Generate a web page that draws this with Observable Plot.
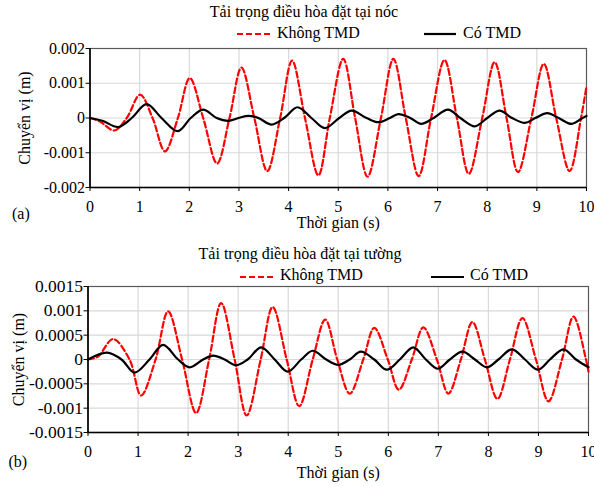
<!DOCTYPE html>
<html><head><meta charset="utf-8">
<script src="https://cdn.jsdelivr.net/npm/d3@7"></script>
<script src="https://cdn.jsdelivr.net/npm/@observablehq/plot@0.6"></script>
<style>
body{margin:0;background:#fff;}
#wrap{position:relative;width:594px;height:487px;font-family:"Liberation Serif","Times New Roman",serif;font-size:16px;color:#000;overflow:hidden;background:#fff}
#wrap svg text{font-family:"Liberation Serif","Times New Roman",serif !important;}
.abs{position:absolute;white-space:nowrap;line-height:16px}
.panel{position:absolute;left:0}
</style></head><body><div id="wrap"></div>
<script>
// ---------- Data ----------
const xTicks = [0,1,2,3,4,5,6,7,8,9,10];

// Panel (a): Tải trọng điều hòa đặt tại nóc
const tRedA = [0,0.2,0.49,0.74,1.01,1.26,1.51,1.77,2.01,2.28,2.56,2.81,3.05,3.31,3.57,3.83,4.07,4.33,4.60,4.83,5.10,5.34,5.59,5.86,6.11,6.36,6.62,6.87,7.14,7.39,7.63,7.90,8.15,8.39,8.62,8.89,9.14,9.39,9.66,9.89,10.0];
const vRedA = [0,-0.0001,-0.00036,0,0.00067,0,-0.00096,0,0.00115,0,-0.00131,0,0.00145,0,-0.00153,0,0.00165,0,-0.00165,0,0.0017,0,-0.00169,0,0.0017,0,-0.00167,0,0.00167,0,-0.00161,0,0.00161,0,-0.00156,0,0.00156,0,-0.00153,0,0.00091];
const tBlackA = [0,0.25,0.57,0.84,1.14,1.44,1.77,2.03,2.28,2.55,2.79,2.99,3.19,3.39,3.66,3.91,4.18,4.46,4.73,5.02,5.27,5.57,5.81,6.04,6.21,6.45,6.67,6.92,7.21,7.46,7.75,8.0,8.25,8.50,8.76,8.97,9.21,9.44,9.70,9.92,10.0];
const vBlackA = [0,-0.00008,-0.00026,0,0.0004,0,-0.00038,0,0.00024,0,-0.00008,0,0.00006,0,-0.00019,0,0.00031,0,-0.00029,0,0.00021,0,-0.00012,0,0.00011,0,-0.00017,0,0.00024,0,-0.00024,0,0.00021,0,-0.00014,0,0.00014,0,-0.00017,0,0.00006];
const yTicksA = [-0.002,-0.001,0,0.001,0.002];
const yLabelsA = ["-0.002","-0.001","0","0.001","0.002"];

// Panel (b): Tải trọng điều hòa đặt tại tường
const tRedB = [0,0.2,0.50,0.83,1.06,1.35,1.60,1.88,2.16,2.42,2.66,2.93,3.17,3.45,3.69,3.97,4.22,4.49,4.74,4.98,5.23,5.50,5.72,5.99,6.21,6.47,6.70,6.97,7.20,7.45,7.68,7.93,8.18,8.43,8.68,8.95,9.20,9.47,9.70,9.95,10.0];
const vRedB = [0,0.00006,0.00042,0,-0.00074,0,0.00099,0,-0.0011,0,0.00116,0,-0.00115,0,0.00108,0,-0.00096,0,0.00082,0,-0.0007,0,0.00065,0,-0.00062,0,0.00066,0,-0.0007,0,0.00077,0,-0.00081,0,0.00085,0,-0.00086,0,0.00088,0,-0.00025];
const tBlackB = [0,0.38,0.67,0.93,1.23,1.50,1.80,2.03,2.30,2.50,2.73,2.96,3.19,3.46,3.73,3.99,4.26,4.49,4.76,5.0,5.23,5.45,5.72,5.97,6.23,6.50,6.75,6.99,7.23,7.48,7.73,7.97,8.20,8.47,8.73,8.99,9.23,9.50,9.75,10.0];
const vBlackB = [0,0.00014,0,-0.00027,0,0.0003,0,-0.00016,0,0.00008,0,-0.00012,0,0.00025,0,-0.00025,0,0.00018,0,-0.00011,0,0.00016,0,-0.00021,0,0.00025,0,-0.00019,0,0.00016,0,-0.00016,0,0.00021,0,-0.00021,0,0.00021,0,-0.00016];
const yTicksB = [-0.0015,-0.001,-0.0005,0,0.0005,0.001,0.0015];
const yLabelsB = ["-0.0015","-0.001","-0.0005","0","0.0005","0.001","0.0015"];

const seriesNames = ["Không TMD","Có TMD"];
const titles = ["Tải trọng điều hòa đặt tại nóc","Tải trọng điều hòa đặt tại tường"];
const panelTags = ["(a)","(b)"];
const xLabel = "Thời gian (s)";
const yLabel = "Chuyển vị (m)";

// ---------- Drawing ----------
const FONT = "Liberation Serif";
function panel(cfg) {
  const red = cfg.tRed.map((t,i)=>({t, v: cfg.vRed[i]}));
  const black = cfg.tBlack.map((t,i)=>({t, v: cfg.vBlack[i]}));
  const yt = cfg.yTicks;
  const inner = yt.slice(1, -1);
  return Plot.plot({
    width: 594, height: cfg.height,
    marginTop: cfg.mt, marginBottom: cfg.mb, marginLeft: cfg.ml, marginRight: cfg.mr,
    style: {fontFamily: FONT, fontSize: "16px", color: "#000", background: "transparent", overflow: "visible"},
    x: {domain: [0, 10]},
    y: {domain: [yt[0], yt[yt.length-1]]},
    marks: [
      Plot.gridX(xTicks.slice(1, -1), {stroke: "#d9d9d9", strokeOpacity: 1, strokeWidth: 1.2}),
      Plot.gridY(inner, {stroke: "#d9d9d9", strokeOpacity: 1, strokeWidth: 1.2}),
      Plot.frame({stroke: "#595959", strokeWidth: 1.2}),
      Plot.line(red, {x: "t", y: "v", stroke: "#ff0000", strokeWidth: 2.2, strokeDasharray: "6,3", curve: "catmull-rom"}),
      Plot.line(black, {x: "t", y: "v", stroke: "#000", strokeWidth: 2.2, curve: "catmull-rom"}),
      Plot.axisX(xTicks, {tickSize: 4, tickPadding: 9, fontFamily: FONT, fontSize: 16, tickFormat: d => String(d), label: null}),
      Plot.axisX({anchor: "bottom", ticks: [], tickSize: 0, fontFamily: FONT, fontSize: 16, label: xLabel, labelAnchor: "center", labelOffset: cfg.xlo, labelArrow: false}),
      Plot.axisY(yt, {tickSize: 4, tickPadding: 1, fontFamily: FONT, fontSize: cfg.yfs, tickFormat: d => cfg.yLabels[yt.indexOf(d)], label: null}),
      Plot.axisY({anchor: "left", ticks: [], tickSize: 0, fontFamily: FONT, fontSize: 16, label: yLabel, labelAnchor: "center", labelOffset: cfg.ylo, labelArrow: false}),
      Plot.ruleX([0], {stroke: "#000", strokeWidth: 1.6}),
      Plot.ruleY([yt[0]], {stroke: "#000", strokeWidth: 1.6})
    ]
  });
}

const wrap = document.getElementById("wrap");

function addPanel(top, cfg) {
  const el = panel(cfg);
  el.classList.add("panel");
  el.style.top = top + "px";
  wrap.appendChild(el);
}

function addText(txt, left, top, center) {
  const d = document.createElement("div");
  d.className = "abs";
  d.textContent = txt;
  d.style.left = left + "px";
  d.style.top = top + "px";
  if (center) d.style.transform = "translateX(-50%)";
  wrap.appendChild(d);
}

function addSwatch(x1, x2, y, color, dash) {
  const ns = "http://www.w3.org/2000/svg";
  const s = document.createElementNS(ns, "svg");
  s.setAttribute("width", x2 - x1);
  s.setAttribute("height", 6);
  s.style.position = "absolute";
  s.style.left = x1 + "px";
  s.style.top = (y - 3) + "px";
  const l = document.createElementNS(ns, "line");
  l.setAttribute("x1", 0); l.setAttribute("x2", x2 - x1);
  l.setAttribute("y1", 3); l.setAttribute("y2", 3);
  l.setAttribute("stroke", color);
  l.setAttribute("stroke-width", 2.2);
  if (dash) l.setAttribute("stroke-dasharray", dash);
  s.appendChild(l);
  wrap.appendChild(s);
}

addPanel(0, {tRed: tRedA, vRed: vRedA, tBlack: tBlackA, vBlack: vBlackA, yTicks: yTicksA, yLabels: yLabelsA,
  height: 240, mt: 48, mb: 53, ml: 89.5, mr: 8, xlo: 40, ylo: 71, yfs: 16});
addPanel(240, {tRed: tRedB, vRed: vRedB, tBlack: tBlackB, vBlack: vBlackB, yTicks: yTicksB, yLabels: yLabelsB,
  height: 247, mt: 46, mb: 55, ml: 87.5, mr: 6, xlo: 45, ylo: 75, yfs: 17.5});

// titles, legends, tags
addText(titles[0], 304, 3.6, true);
addSwatch(237, 270, 34.3, "#ff0000", "6,3");
addText(seriesNames[0], 277, 24.9);
addSwatch(424, 456, 34.3, "#000", null);
addText(seriesNames[1], 463, 24.9);
addText(panelTags[0], 12, 205.6);

addText(titles[1], 300, 245.9, true);
addSwatch(240, 273, 276.7, "#ff0000", "6,3");
addText(seriesNames[0], 280, 266.6);
addSwatch(431, 464, 276.7, "#000", null);
addText(seriesNames[1], 470, 266.6);
addText(panelTags[1], 8.5, 454.3);
</script></body></html>
